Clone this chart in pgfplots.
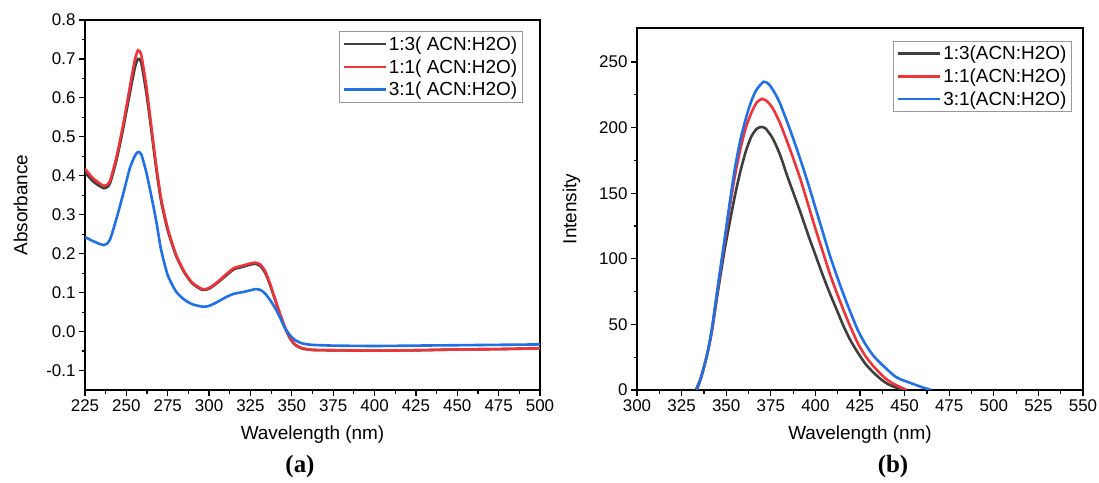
\documentclass[border=0pt]{standalone}
\usepackage{fontspec}
\setmainfont{Liberation Sans}
\newfontfamily\capfont{Liberation Serif}
\usepackage{pgfplots}
\pgfplotsset{compat=1.18}
\definecolor{cblack}{RGB}{62,62,62}
\definecolor{cred}{RGB}{238,52,56}
\definecolor{cblue}{RGB}{32,112,230}

\pgfplotsset{
  origin/.style={
    scale only axis,
    axis line style={line width=1.5bp},
    tick align=outside,
    xtick pos=bottom, ytick pos=left,
    major tick length=6bp, minor tick length=3.5bp,
    every tick/.style={black, line width=1.2bp},
    minor tick num=1,
    tick label style={font=\fontsize{17}{19}\selectfont},
    label style={font=\fontsize{19}{21}\selectfont},
    xlabel style={yshift=-7bp},
    ylabel style={yshift=12bp},
    /pgf/number format/assume math mode=true,
    legend cell align=left,
    legend style={font=\fontsize{19}{23}\selectfont, draw=gray!80, line width=1bp,
      anchor=north east, inner sep=3bp, row sep=3.5bp},
    legend image code/.code={\draw[#1, line width=2.6bp] (0bp,0bp) -- (42bp,0bp);},
    every axis plot/.append style={line width=2.6bp, smooth, tension=0.4},
  }
}

\begin{document}
\begin{tikzpicture}
\path[use as bounding box] (0,0) rectangle (1099bp,483bp);

\begin{axis}[origin,
  at={(85bp,93bp)}, anchor=south west,
  width=455bp, height=370bp,
  xmin=225, xmax=500, ymin=-0.15, ymax=0.8,
  xtick={225,250,...,500},
  ytick={-0.1,0,0.1,0.2,0.3,0.4,0.5,0.6,0.7,0.8},
  yticklabel style={/pgf/number format/.cd, fixed, fixed zerofill, precision=1},
  xlabel={Wavelength (nm)}, ylabel={Absorbance},
  legend style={at={(0.962,0.97)}},
]
\addplot[cblack] coordinates {
(225,0.410)(230,0.385)(236.5,0.368)(240,0.380)(244,0.440)(248,0.520)(252,0.610)
(255,0.675)(257,0.700)(259,0.690)(262,0.615)(265,0.520)(268,0.420)(271,0.335)
(275,0.260)(280,0.195)(285,0.152)(290,0.123)(296,0.107)(300,0.110)(305,0.125)
(310,0.143)(315,0.160)(320,0.166)(325,0.172)(328,0.174)(331,0.168)(334,0.150)
(337,0.118)(340,0.080)(343,0.042)(346,0.008)(349,-0.018)(352,-0.034)(356,-0.043)
(362,-0.047)(375,-0.048)(400,-0.049)(425,-0.048)(450,-0.046)(475,-0.045)(500,-0.043)
};
\addlegendentry{1:3( ACN:H2O)}
\addplot[cred] coordinates {
(225,0.418)(230,0.393)(236.5,0.374)(240,0.386)(244,0.448)(248,0.530)(252,0.625)
(255,0.695)(257,0.722)(259,0.710)(262,0.632)(265,0.530)(268,0.428)(271,0.342)
(275,0.265)(280,0.198)(285,0.154)(290,0.125)(296,0.109)(300,0.112)(305,0.127)
(310,0.146)(315,0.163)(320,0.169)(325,0.175)(328,0.177)(331,0.172)(334,0.154)
(337,0.121)(340,0.082)(343,0.044)(346,0.010)(349,-0.016)(352,-0.033)(356,-0.042)
(362,-0.047)(375,-0.048)(400,-0.049)(425,-0.048)(450,-0.046)(475,-0.045)(500,-0.043)
};
\addlegendentry{1:1( ACN:H2O)}
\addplot[cblue] coordinates {
(225,0.243)(230,0.232)(236.5,0.222)(240,0.235)(244,0.290)(248,0.352)(252,0.418)
(255,0.450)(257,0.461)(259,0.455)(262,0.410)(265,0.350)(268,0.285)(271,0.210)
(275,0.145)(280,0.103)(285,0.082)(290,0.070)(296,0.064)(300,0.066)(305,0.076)
(310,0.088)(315,0.097)(320,0.101)(325,0.106)(328,0.109)(331,0.107)(334,0.097)
(337,0.080)(340,0.060)(343,0.035)(346,0.008)(349,-0.010)(352,-0.022)(356,-0.030)
(362,-0.034)(375,-0.036)(400,-0.037)(425,-0.036)(450,-0.035)(475,-0.034)(500,-0.033)
};
\addlegendentry{3:1( ACN:H2O)}
\end{axis}

\begin{axis}[origin,
  at={(637bp,93bp)}, anchor=south west,
  width=446bp, height=362bp,
  xmin=300, xmax=550, ymin=0, ymax=276,
  xtick={300,325,...,550},
  ytick={0,50,...,250},
  xlabel={Wavelength (nm)}, ylabel={Intensity},
  legend style={at={(0.975,0.965)}},
]
\addplot[cblack] coordinates {
(333,0)(336,10)(339.3,27)(342,45)(345,72)(349,106)(352,128)(355,149)(358,167)
(361,182)(364,193)(367,199)(369.5,200.5)(372,199.5)(376,192)(380,180)(384,164)
(388,149)(392,134)(396,118)(400,103)(404,88)(408,74)(412,61)(416,48)(420,37)
(424,28)(428,20)(432,14)(436,9)(440,5)(444,2.5)(448,0.5)(449,0)
};
\addlegendentry{1:3(ACN:H2O)}
\addplot[cred] coordinates {
(333.5,0)(336,10)(339.3,27)(342,46)(345,75)(349,112)(352,140)(355,164)(358,184)
(361,200)(364,211)(367,219)(370,222)(373,220)(376,215)(380,204)(384,190)
(388,175)(392,159)(396,141)(400,123)(404,106)(408,89)(412,74)(416,60)(420,47)
(424,35)(428,26)(432,19)(436,13)(440,8)(444,4.5)(448,2)(451,0)
};
\addlegendentry{1:1(ACN:H2O)}
\addplot[cblue] coordinates {
(333.5,0)(336,10)(339.3,27)(342,47)(345,76)(349,114)(352,143)(355,170)(358,191)
(361,207)(364,220)(367,229)(371,235)(374,233)(377,227)(380,219)(384,205)
(388,190)(392,174)(396,157)(400,139)(404,121)(408,103)(412,87)(416,72)(420,58)
(424,45)(428,35)(432,27)(436,21)(440,16)(444,11)(448,8)(452,6)(456,4)(460,2)(465,0)
};
\addlegendentry{3:1(ACN:H2O)}
\end{axis}

\node[font=\capfont\bfseries\fontsize{25}{28}\selectfont] at (300bp,16bp) {(a)};
\node[font=\capfont\bfseries\fontsize{25}{28}\selectfont] at (893bp,16bp) {(b)};
\end{tikzpicture}
\end{document}
